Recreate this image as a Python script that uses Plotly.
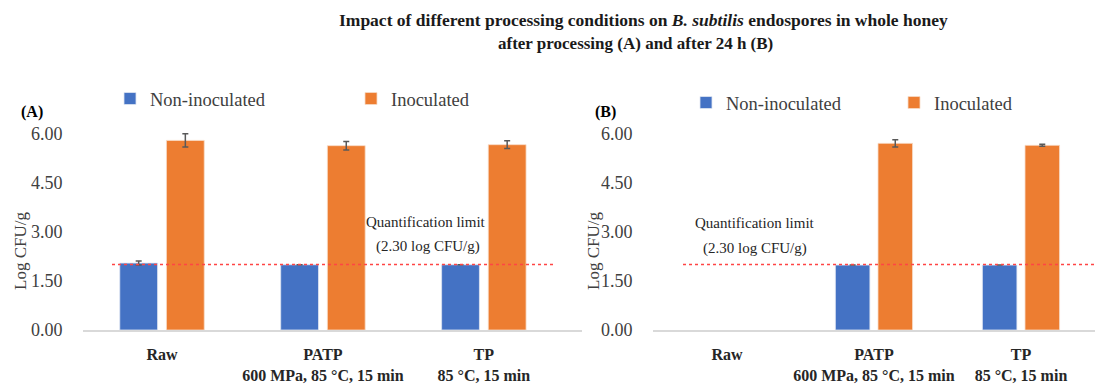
import plotly.graph_objects as go

categories = ["Raw", "PATP", "TP"]
tick_labels = ["<b>Raw</b>", "<b>PATP</b><br><b>600 MPa, 85 °C, 15 min</b>", "<b>TP</b><br><b>85 °C, 15 min</b>"]

# Panel A: after processing
a_non = [2.04, 1.99, 1.99]
a_non_err = [0.06, 0.0, 0.0]
a_ino = [5.78, 5.62, 5.65]
a_ino_err = [0.20, 0.13, 0.12]

# Panel B: after 24 h
b_non = [None, 1.98, 1.98]
b_non_err = [0.0, 0.0, 0.0]
b_ino = [None, 5.69, 5.63]
b_ino_err = [None, 0.11, 0.03]

limit_line = 2.0
y_ticks = [0, 1.5, 3.0, 4.5, 6.0]

BLUE = "#4472C4"
ORANGE = "#ED7D31"
FONT = "Liberation Serif"

# page body has an 8px margin: build figure slightly smaller and map screen pixels
OFF = 8
W, H = 1103 - OFF, 385 - OFF


def px(x):
    return (x - OFF) / W


def py(y):
    return (H - (y - OFF)) / H


fig = go.Figure()


def add_bars(xa, ya, non, non_err, ino, ino_err, legend):
    fig.add_trace(go.Bar(
        x=categories, y=non, name="Non-inoculated",
        marker=dict(color=BLUE, line=dict(color="#dfe6f3", width=0.8)),
        error_y=dict(type="data", array=non_err, color="#595959", thickness=1.5, width=3),
        xaxis=xa, yaxis=ya, legend=legend, showlegend=True))
    fig.add_trace(go.Bar(
        x=categories, y=ino, name="Inoculated",
        marker=dict(color=ORANGE, line=dict(color="#f8dcc8", width=0.8)),
        error_y=dict(type="data", array=ino_err, color="#595959", thickness=1.5, width=3),
        xaxis=xa, yaxis=ya, legend=legend, showlegend=True))


add_bars("x", "y", a_non, a_non_err, a_ino, a_ino_err, "legend")
add_bars("x2", "y2", b_non, b_non_err, b_ino, b_ino_err, "legend2")

ydom = [py(330), py(330 - 6.5 * 32.8)]
yax = dict(range=[0, 6.5], tickvals=y_ticks, tickformat=".2f", showgrid=False, zeroline=False,
           showline=False, ticks="outside", ticklen=16, tickcolor="rgba(0,0,0,0)",
           tickfont=dict(family=FONT, size=18, color="#404040"), domain=ydom)
xax = dict(type="category", tickvals=categories, ticktext=tick_labels, showgrid=False, zeroline=False,
           showline=True, linecolor="#d9d9d9", linewidth=1.5, ticks="outside", ticklen=9,
           tickcolor="rgba(0,0,0,0)", tickfont=dict(family=FONT, size=16, color="#262626"))

fig.update_layout(
    width=W, height=H, margin=dict(l=0, r=0, t=0, b=0, autoexpand=False),
    paper_bgcolor="white", plot_bgcolor="white",
    barmode="group", bargap=0.42, bargroupgap=0.19,
    font=dict(family=FONT, color="#262626"),
    xaxis=dict(xax, domain=[px(83), px(582)], range=[-0.491, 2.61], anchor="y"),
    yaxis=dict(yax, anchor="x"),
    xaxis2=dict(xax, domain=[px(653), 1.0], range=[-0.503, 2.558], anchor="y2"),
    yaxis2=dict(yax, anchor="x2"),
    legend=dict(orientation="h", x=px(110), y=py(99), xanchor="left", yanchor="middle",
                entrywidth=196, font=dict(family=FONT, size=18.5, color="#404040"),
                bgcolor="rgba(0,0,0,0)", itemclick=False, itemwidth=30),
    legend2=dict(orientation="h", x=px(686), y=py(103), xanchor="left", yanchor="middle",
                 entrywidth=163, font=dict(family=FONT, size=18.5, color="#404040"),
                 bgcolor="rgba(0,0,0,0)", itemclick=False, itemwidth=30),
)

# Quantification limit lines
fig.add_shape(type="line", xref="x domain", yref="y", x0=(112 - 83) / 499, x1=(555 - 83) / 499,
              y0=limit_line, y1=limit_line, line=dict(color="#FF4545", width=1.5, dash="dot"))
fig.add_shape(type="line", xref="x2 domain", yref="y2", x0=(683 - 653) / 450, x1=1.0,
              y0=limit_line, y1=limit_line, line=dict(color="#FF4545", width=1.5, dash="dot"))


def ann(x, y, text, size, color="#262626", angle=0):
    fig.add_annotation(x=px(x), y=py(y), xref="paper", yref="paper", showarrow=False,
                       xanchor="center", yanchor="middle", text=text, textangle=angle,
                       font=dict(family=FONT, size=size, color=color), align="center")


ann(426, 222, "Quantification limit", 15)
ann(428, 246, "(2.30 log CFU/g)", 15)
ann(755, 223, "Quantification limit", 15)
ann(755, 248, "(2.30 log CFU/g)", 15)
ann(32, 112, "<b>(A)</b>", 16, "#000")
ann(605, 112, "<b>(B)</b>", 16, "#000")
ann(20, 251, "Log CFU/g", 17, "#404040", -90)
ann(593, 251, "Log CFU/g", 17, "#404040", -90)
ann(644, 20, "<b>Impact of different processing conditions on <i>B. subtilis</i> endospores in whole honey</b>",
    17.5, "#1a1a1a")
ann(635, 44, "<b>after processing (A) and after 24 h (B)</b>", 17, "#1a1a1a")

fig.write_html("out.html")
